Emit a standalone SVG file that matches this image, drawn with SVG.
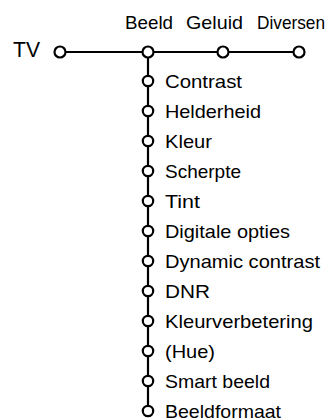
<svg xmlns="http://www.w3.org/2000/svg" width="336" height="419" viewBox="0 0 336 419">
<style>
.t{font-family:"Liberation Sans",Arial,sans-serif;font-size:18.5px;fill:#000}
.n{fill:#fff;stroke:#000;stroke-width:2.2}
.c{stroke:#000;stroke-width:2.2;fill:none}
</style>
<rect width="336" height="419" fill="#fff"/>
<g id="connectors">
<line class="c" x1="60" y1="52" x2="299" y2="52"/>
<line class="c" x1="148" y1="52" x2="148" y2="411"/>
</g>
<g id="tv"><circle class="n" cx="60" cy="52" r="5.5"/><text class="t" x="13" y="57" style="font-size:22px" textLength="27" lengthAdjust="spacingAndGlyphs">TV</text></g>
<g id="beeld"><circle class="n" cx="148" cy="52" r="5.5"/><text class="t" x="125" y="29" textLength="48" lengthAdjust="spacingAndGlyphs">Beeld</text></g>
<g id="geluid"><circle class="n" cx="223" cy="52" r="5.5"/><text class="t" x="186" y="29" textLength="57" lengthAdjust="spacingAndGlyphs">Geluid</text></g>
<g id="diversen"><circle class="n" cx="299" cy="52" r="5.5"/><text class="t" x="257" y="29" textLength="68" lengthAdjust="spacingAndGlyphs">Diversen</text></g>
<g id="contrast"><circle class="n" cx="148" cy="81" r="5.2"/><text class="t" x="165" y="87.5" textLength="77" lengthAdjust="spacingAndGlyphs">Contrast</text></g>
<g id="helderheid"><circle class="n" cx="148" cy="111" r="5.2"/><text class="t" x="165" y="117.5" textLength="96" lengthAdjust="spacingAndGlyphs">Helderheid</text></g>
<g id="kleur"><circle class="n" cx="148" cy="141" r="5.2"/><text class="t" x="165" y="147.5" textLength="47" lengthAdjust="spacingAndGlyphs">Kleur</text></g>
<g id="scherpte"><circle class="n" cx="148" cy="171" r="5.2"/><text class="t" x="165" y="177.5" textLength="76" lengthAdjust="spacingAndGlyphs">Scherpte</text></g>
<g id="tint"><circle class="n" cx="148" cy="201" r="5.2"/><text class="t" x="165" y="207.5" textLength="35" lengthAdjust="spacingAndGlyphs">Tint</text></g>
<g id="digitale"><circle class="n" cx="148" cy="231" r="5.2"/><text class="t" x="165" y="237.5" textLength="125" lengthAdjust="spacingAndGlyphs">Digitale opties</text></g>
<g id="dynamic"><circle class="n" cx="148" cy="261" r="5.2"/><text class="t" x="165" y="267.5" textLength="155" lengthAdjust="spacingAndGlyphs">Dynamic contrast</text></g>
<g id="dnr"><circle class="n" cx="148" cy="291" r="5.2"/><text class="t" x="165" y="297.5" textLength="45" lengthAdjust="spacingAndGlyphs">DNR</text></g>
<g id="kleurverbetering"><circle class="n" cx="148" cy="321" r="5.2"/><text class="t" x="165" y="327.5" textLength="148" lengthAdjust="spacingAndGlyphs">Kleurverbetering</text></g>
<g id="hue"><circle class="n" cx="148" cy="351" r="5.2"/><text class="t" x="165" y="357.5" textLength="50" lengthAdjust="spacingAndGlyphs">(Hue)</text></g>
<g id="smart"><circle class="n" cx="148" cy="381" r="5.2"/><text class="t" x="165" y="387.5" textLength="105" lengthAdjust="spacingAndGlyphs">Smart beeld</text></g>
<g id="beeldformaat"><circle class="n" cx="148" cy="411" r="5.2"/><text class="t" x="165" y="417.5" textLength="116" lengthAdjust="spacingAndGlyphs">Beeldformaat</text></g>
</svg>
